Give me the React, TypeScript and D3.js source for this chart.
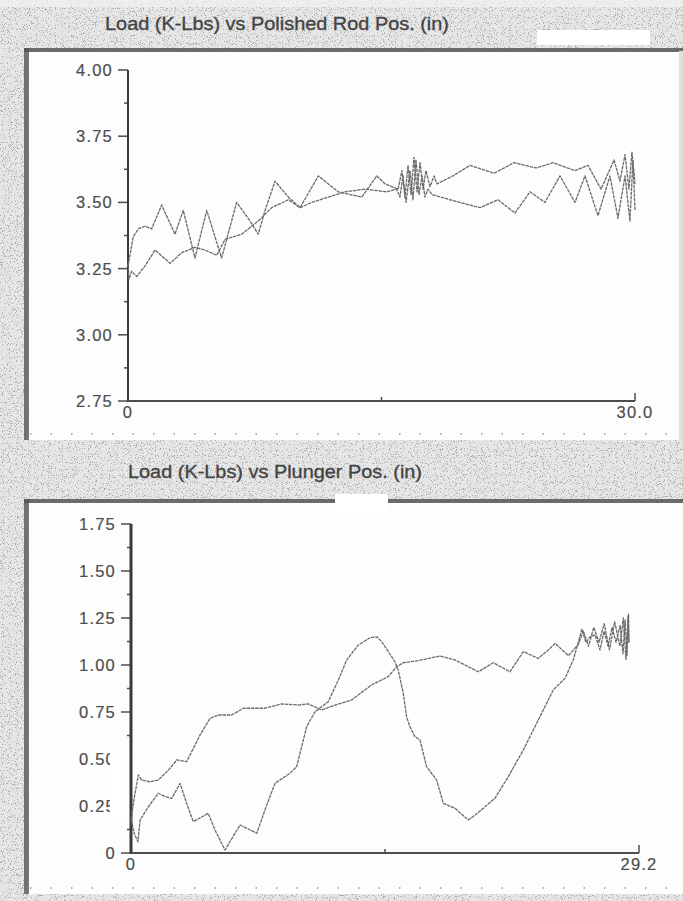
import React from 'react';
import * as d3 from 'd3';

// Polished rod card: load (K-Lbs) vs position (in)
const rodUpPos = [0, 0.31, 0.61, 1.01, 1.40, 1.99, 2.78, 3.27, 3.96, 4.66, 5.54, 6.43, 7.22, 7.71, 8.11, 8.70, 9.49, 10.18, 11.26, 12.44, 13.83, 14.72, 15.21, 15.98, 16.21, 16.39, 16.57, 16.75, 16.92, 17.10, 17.28, 17.46, 17.63, 17.87, 18.11, 18.28, 19.23, 20.24, 21.66, 22.84, 24.14, 25.15, 26.45, 27.22, 27.99, 28.76, 29.11, 29.41, 29.64, 29.82, 30.0];
const rodUpLoad = [3.26, 3.37, 3.40, 3.41, 3.40, 3.49, 3.38, 3.47, 3.29, 3.47, 3.29, 3.50, 3.43, 3.38, 3.47, 3.58, 3.52, 3.48, 3.60, 3.54, 3.52, 3.60, 3.57, 3.55, 3.62, 3.52, 3.64, 3.53, 3.67, 3.54, 3.65, 3.55, 3.62, 3.56, 3.60, 3.57, 3.60, 3.64, 3.61, 3.65, 3.63, 3.65, 3.62, 3.64, 3.55, 3.66, 3.58, 3.68, 3.55, 3.69, 3.57];
const rodDownPos = [0, 0.06, 0.22, 0.51, 1.01, 1.60, 2.49, 3.18, 3.96, 4.56, 5.25, 5.74, 6.73, 7.71, 8.50, 9.49, 10.18, 10.87, 11.85, 12.84, 14.02, 15.31, 15.90, 16.09, 16.27, 16.45, 16.69, 16.86, 17.04, 17.22, 17.40, 17.57, 17.75, 17.99, 19.05, 20.83, 21.89, 22.90, 23.79, 24.67, 25.56, 26.45, 27.04, 27.81, 28.52, 28.99, 29.41, 29.70, 29.88, 30.0];
const rodDownLoad = [3.27, 3.21, 3.24, 3.22, 3.26, 3.32, 3.27, 3.31, 3.33, 3.32, 3.30, 3.36, 3.38, 3.43, 3.48, 3.51, 3.48, 3.50, 3.52, 3.54, 3.55, 3.54, 3.55, 3.52, 3.60, 3.50, 3.62, 3.51, 3.66, 3.53, 3.60, 3.52, 3.55, 3.53, 3.51, 3.48, 3.51, 3.46, 3.54, 3.50, 3.60, 3.50, 3.60, 3.45, 3.60, 3.44, 3.60, 3.43, 3.66, 3.47];
const rodLoadTicks = [2.75, 3.0, 3.25, 3.5, 3.75, 4.0];
const rodPosTicks = [0, 30.0];

// Plunger card
const plungerAPos = [0, 0.20, 0.40, 0.52, 1.00, 1.57, 1.96, 2.34, 2.82, 3.20, 3.58, 4.44, 4.83, 5.40, 6.27, 7.23, 7.70, 8.28, 9.14, 9.52, 10.10, 10.58, 11.34, 11.92, 12.40, 13.06, 13.74, 14.14, 14.41, 15.17, 15.36, 15.65, 15.84, 16.03, 16.32, 16.61, 16.99, 17.57, 17.95, 18.62, 19.39, 19.96, 20.92, 21.69, 22.55, 23.41, 24.27, 24.95, 25.42, 25.92, 26.15, 26.38, 26.67, 26.96, 27.19, 27.42, 27.65, 27.88, 28.11, 28.28, 28.40, 28.51, 28.57, 28.62];
const plungerALoad = [0.18, 0.10, 0.06, 0.175, 0.246, 0.318, 0.30, 0.29, 0.37, 0.264, 0.167, 0.211, 0.122, 0.016, 0.149, 0.105, 0.229, 0.371, 0.424, 0.459, 0.672, 0.752, 0.805, 0.92, 1.027, 1.106, 1.145, 1.15, 1.124, 1.018, 0.973, 0.85, 0.725, 0.672, 0.619, 0.601, 0.459, 0.388, 0.264, 0.238, 0.175, 0.215, 0.291, 0.406, 0.548, 0.707, 0.867, 0.929, 1.027, 1.19, 1.12, 1.15, 1.16, 1.08, 1.18, 1.10, 1.20, 1.12, 1.21, 1.06, 1.24, 1.05, 1.26, 1.12];
const plungerBPos = [0, 0.20, 0.42, 0.61, 1.09, 1.57, 2.15, 2.63, 3.20, 3.49, 3.97, 4.54, 5.02, 5.79, 6.46, 7.70, 8.66, 9.62, 10.19, 10.96, 11.73, 12.68, 13.83, 14.79, 15.27, 15.65, 16.51, 17.76, 18.62, 19.96, 20.83, 21.78, 22.17, 22.55, 23.41, 23.99, 24.38, 25.14, 25.72, 26.00, 26.30, 26.60, 26.90, 27.20, 27.50, 27.80, 28.10, 28.30, 28.45, 28.60, 28.62];
const plungerBLoad = [0.18, 0.30, 0.415, 0.388, 0.379, 0.388, 0.441, 0.495, 0.486, 0.539, 0.628, 0.716, 0.734, 0.734, 0.77, 0.77, 0.793, 0.787, 0.793, 0.761, 0.787, 0.814, 0.894, 0.938, 0.991, 1.012, 1.023, 1.048, 1.027, 0.964, 1.012, 0.964, 1.018, 1.071, 1.035, 1.08, 1.115, 1.05, 1.11, 1.18, 1.10, 1.20, 1.12, 1.22, 1.08, 1.23, 1.10, 1.25, 1.03, 1.27, 1.12];
const plungerLoadTicks = [0, 0.25, 0.5, 0.75, 1.0, 1.25, 1.5, 1.75];
const plungerPosTicks = [0, 29.2];

const W = 683;
const H = 901;
const FONT = "'Liberation Sans', Arial, sans-serif";
const INK = '#4d4d4d';
const TRACE = '#6a6a6a';

const zip = (xs: number[], ys: number[]) => xs.map((x, i) => [x, ys[i]] as [number, number]);

function Card(props: any) {
  const { title, titleX, titleY, titleLen, panelTop, panelBottom, x, y, xTicks, yTicks, xFmt, yFmt, series, yAxisW, labelGap, patch } = props;
  const line = d3.line<[number, number]>().x(d => x(d[0])).y(d => y(d[1]));
  const [xa, xb] = x.range();
  const [yb, yt] = y.range();
  const step = yTicks[1] - yTicks[0];
  const minor = yTicks.slice(0, -1).map((t: number) => t + step / 2);
  const mid = (x.domain()[0] + x.domain()[1]) / 2;

  return (
    <g>
      <text x={titleX} y={titleY} fontFamily={FONT} fontSize={19} fill="#444" stroke="#444" strokeWidth={0.35}
        textLength={titleLen} lengthAdjust="spacingAndGlyphs">{title}</text>

      {/* sunken panel */}
      <rect x={27} y={panelTop} width={W - 27} height={panelBottom - panelTop} fill="#fdfdfd" />
      <rect x={24} y={panelTop - 3} width={W - 24} height={4} fill="#555" opacity={0.85} />
      <rect x={24} y={panelTop - 3} width={5} height={panelBottom - panelTop + 3} fill="#555" opacity={0.8} />

      {yTicks.map((t: number) => (
        <g key={'y' + t}>
          <line x1={xa - 10} x2={xa} y1={y(t)} y2={y(t)} stroke={INK} strokeWidth={1.5} />
          <text x={xa - labelGap} y={y(t) + 6} textAnchor="end" fontFamily={FONT} fontSize={16.5}
            letterSpacing={1.2} fill={INK} stroke={INK} strokeWidth={0.2}>{yFmt(t)}</text>
        </g>
      ))}
      {minor.map((t: number) => (
        <line key={'m' + t} x1={xa - 4} x2={xa} y1={y(t)} y2={y(t)} stroke={INK} strokeWidth={1.5} />
      ))}
      {patch && <rect x={patch[0]} y={patch[1]} width={patch[2]} height={patch[3]} fill="#fff" />}

      <line x1={xa} x2={xa} y1={yb + 1} y2={yt} stroke="#3a3a3a" strokeWidth={yAxisW} />
      <line x1={xa} x2={xb} y1={yb} y2={yb} stroke={INK} strokeWidth={2} />
      <line x1={xb} x2={xb} y1={yb} y2={yb - 8} stroke={INK} strokeWidth={1.5} />
      <line x1={x(mid)} x2={x(mid)} y1={yb} y2={yb - 4} stroke={INK} strokeWidth={1.5} />
      {xTicks.map((t: number) => (
        <text key={'x' + t} x={x(t)} y={yb + 16.5} textAnchor="middle" fontFamily={FONT} fontSize={16.5}
          letterSpacing={1.2} fill={INK} stroke={INK} strokeWidth={0.2}>{xFmt(t)}</text>
      ))}

      {series.map((s: [number, number][], i: number) => (
        <path key={i} d={line(s) || ''} fill="none" stroke={TRACE} strokeWidth={1.3}
          strokeLinejoin="round" strokeDasharray="3.5 0.8" />
      ))}

      <line x1={30} x2={W} y1={panelBottom - 6} y2={panelBottom - 6} stroke="#999"
        strokeWidth={1.5} strokeDasharray="1.5 19" />
    </g>
  );
}

export default function App() {
  const rodX = d3.scaleLinear().domain([0, 30]).range([128, 635]);
  const rodY = d3.scaleLinear().domain([2.75, 4.0]).range([401, 70]);
  const plX = d3.scaleLinear().domain([0, 29.2]).range([131, 639]);
  const plY = d3.scaleLinear().domain([0, 1.75]).range([853, 524]);

  return (
    <svg width={W} height={H} viewBox={`0 0 ${W} ${H}`}
      style={{ position: 'absolute', left: 0, top: 0, display: 'block', background: '#e9e9e9' }}>
      <defs>
        <filter id="grain" x="0" y="0" width="100%" height="100%">
          <feTurbulence type="fractalNoise" baseFrequency="0.85" numOctaves="2" seed="7" result="n" />
          <feColorMatrix in="n" type="matrix"
            values="0 0 0 0 0.4  0 0 0 0 0.4  0 0 0 0 0.4  12 0 0 0 -7.2" />
        </filter>
      </defs>
      <rect x={0} y={0} width={W} height={H} fill="#e6e6e6" />
      <rect x={0} y={0} width={W} height={H} fill="#000" filter="url(#grain)" />
      <rect x={0} y={0} width={W} height={7} fill="#f2f2f2" opacity={0.7} />

      <Card
        title="Load (K-Lbs) vs Polished Rod Pos. (in)" titleX={105} titleY={30} titleLen={344}
        panelTop={51} panelBottom={440}
        x={rodX} y={rodY} xTicks={rodPosTicks} yTicks={rodLoadTicks}
        xFmt={(v: number) => (v === 0 ? '0' : v.toFixed(1))} yFmt={(v: number) => v.toFixed(2)}
        series={[zip(rodUpPos, rodUpLoad), zip(rodDownPos, rodDownLoad)]}
        yAxisW={2} labelGap={15}
      />
      <Card
        title="Load (K-Lbs) vs Plunger Pos. (in)" titleX={128} titleY={478} titleLen={294}
        panelTop={502} panelBottom={894}
        x={plX} y={plY} xTicks={plungerPosTicks} yTicks={plungerLoadTicks}
        xFmt={(v: number) => (v === 0 ? '0' : v.toFixed(1))} yFmt={(v: number) => (v === 0 ? '0' : v.toFixed(2))}
        series={[zip(plungerAPos, plungerALoad), zip(plungerBPos, plungerBLoad)]}
        yAxisW={3} labelGap={15} patch={[110, 753, 22, 65]}
      />

      {/* scan dropouts along the frame edges */}
      <rect x={537} y={30} width={113} height={15} fill="#fff" />
      <rect x={335} y={494} width={53} height={18} fill="#fff" />
      <rect x={679} y={51} width={4} height={389} fill="#e0e0e0" />
    </svg>
  );
}
